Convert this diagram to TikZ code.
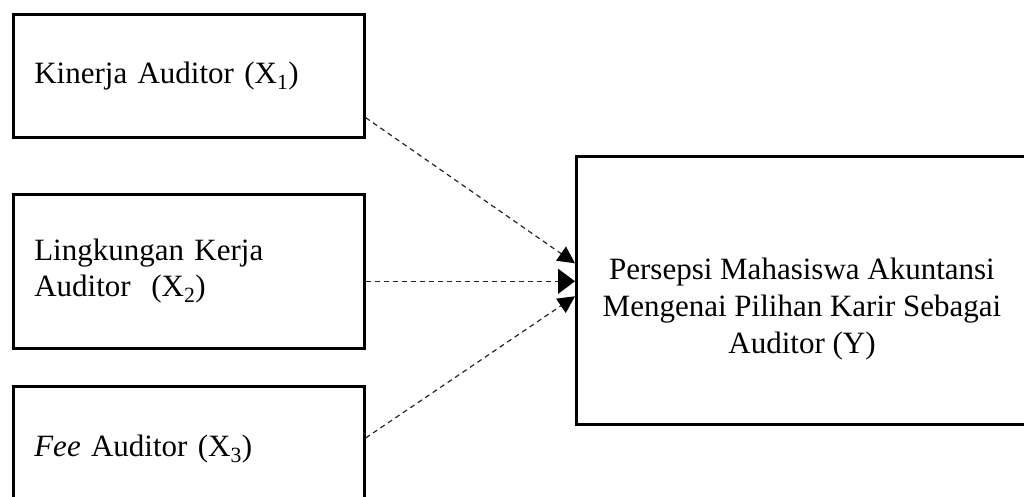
\documentclass[tikz,border=0pt]{standalone}
\usepackage{fontspec}
\setmainfont{Liberation Serif}
\usetikzlibrary{calc,arrows.meta}
\tikzset{
  varbox/.style={draw=black, line width=2.6pt, rectangle, anchor=north west,
    inner xsep=21pt, inner ysep=0pt, align=left, text width=309pt,
    font=\fontsize{31}{36}\selectfont},
  ybox/.style={draw=black, line width=2.6pt, rectangle, anchor=north west,
    minimum width=455pt, minimum height=268pt, inner sep=0pt},
  ytext/.style={align=center, inner sep=0pt, font=\fontsize{31}{37}\selectfont},
  rel/.style={dash pattern=on 5pt off 4pt, line width=1.2pt, draw=black!85},
  tipd/.style={-{Triangle[length=17pt,width=17pt,color=black,fill=black]}},
  tiph/.style={-{Triangle[length=17pt,width=25pt,color=black,fill=black]}}
}
\begin{document}
\begin{tikzpicture}[x=1pt,y=-1pt]
\useasboundingbox (0,0) rectangle (1024,497);
\clip (0,0) rectangle (1024,497);
\fill[white] (0,0) rectangle (1024,497);

\node[varbox, minimum height=123pt] (x1) at (12,13) {Kinerja Auditor (X\textsubscript{1})};
\node[varbox, minimum height=154pt] (x2) at (12,193) {Lingkungan Kerja\\Auditor\ \ (X\textsubscript{2})};
\node[varbox, minimum height=126pt] (x3) at (12,385) {\textit{Fee} Auditor (X\textsubscript{3})};

\node[ybox] (y) at (575,155) {};
\node[ytext] (ylabel) at (802,309) {Persepsi Mahasiswa Akuntansi\\Mengenai Pilihan Karir Sebagai\\Auditor (Y)};

\coordinate (s1) at ($(x1.south east)+(0,-21)$);
\coordinate (s2) at ($(x2.east)+(0,10)$);
\coordinate (s3) at ($(x3.north east)+(0,53)$);
\coordinate (t1) at ($(y.west)+(0,-27)$);
\coordinate (t2) at ($(y.west)+(0,-9)$);
\coordinate (t3) at ($(y.west)+(0,6)$);

\draw[rel, tipd] (s1) -- (t1);
\draw[rel, tiph] (s2) -- (t2);
\draw[rel, tipd] (s3) -- (t3);
\end{tikzpicture}
\end{document}
